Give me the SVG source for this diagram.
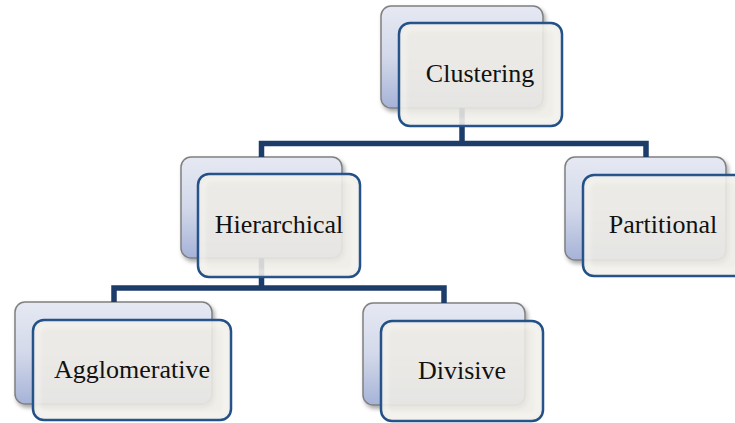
<svg xmlns="http://www.w3.org/2000/svg" width="735" height="423" viewBox="0 0 735 423">
  <defs>
    <linearGradient id="backFill" x1="0" y1="0" x2="0" y2="1">
      <stop offset="0" stop-color="#e6e9f3"/>
      <stop offset="0.5" stop-color="#d3d9ea"/>
      <stop offset="1" stop-color="#a6b3d8"/>
    </linearGradient>
    <filter id="shadow" x="-10%" y="-10%" width="125%" height="130%">
      <feDropShadow dx="2" dy="3" stdDeviation="2" flood-color="#000" flood-opacity="0.35"/>
    </filter>
    <filter id="soft" x="-10%" y="-10%" width="120%" height="120%">
      <feGaussianBlur stdDeviation="2"/>
    </filter>
  </defs>
  <style>
    .back { fill: url(#backFill); stroke: #808080; stroke-width: 1.5; filter: url(#shadow); }
    .front { fill: #eeece5; fill-opacity: 0.88; stroke: #1f4e86; stroke-width: 2.5; }
    .glow { fill: none; stroke: #ffffff; stroke-opacity: 0.5; stroke-width: 3; filter: url(#soft); }
    .link { fill: none; stroke: #1c3c6a; stroke-width: 5.5; stroke-linejoin: miter; }
    .label { font-family: "Liberation Serif", "Times New Roman", serif; font-size: 26px; fill: #111; text-anchor: middle; }
  </style>

  <rect width="735" height="423" fill="#ffffff"/>

  <!-- back plates of every node -->
  <g id="backs">
    <rect class="back" x="381" y="6" width="162" height="102" rx="10"/>
    <rect class="back" x="181" y="157" width="161" height="101" rx="10"/>
    <rect class="back" x="565" y="157" width="161" height="103" rx="10"/>
    <rect class="back" x="15" y="302" width="197" height="102" rx="10"/>
    <rect class="back" x="363" y="303" width="162" height="102" rx="10"/>
  </g>

  <!-- tree connectors -->
  <g id="connectors">
    <path class="link" d="M462 108 V143.5 H261.5 V157 M462 143.5 H646 V157"/>
    <path class="link" d="M261.5 258 V288 H114 V302 M261.5 288 H444 V303"/>
  </g>

  <g id="node-clustering">
    <rect class="front" x="399" y="23" width="163" height="103" rx="11"/>
    <rect class="glow" x="404" y="28" width="153" height="93" rx="8"/>
    <text class="label" x="480" y="82">Clustering</text>
  </g>

  <g id="node-hierarchical">
    <rect class="front" x="198" y="174" width="162" height="103" rx="11"/>
    <rect class="glow" x="203" y="179" width="152" height="93" rx="8"/>
    <text class="label" x="279" y="233">Hierarchical</text>
  </g>

  <g id="node-partitional">
    <rect class="front" x="583" y="175" width="162" height="101" rx="11"/>
    <rect class="glow" x="588" y="180" width="152" height="91" rx="8"/>
    <text class="label" x="663" y="233">Partitional</text>
  </g>

  <g id="node-agglomerative">
    <rect class="front" x="33" y="320" width="198" height="100" rx="11"/>
    <rect class="glow" x="38" y="325" width="188" height="90" rx="8"/>
    <text class="label" x="132" y="378">Agglomerative</text>
  </g>

  <g id="node-divisive">
    <rect class="front" x="381" y="321" width="162" height="100" rx="11"/>
    <rect class="glow" x="386" y="326" width="152" height="90" rx="8"/>
    <text class="label" x="462" y="379">Divisive</text>
  </g>
</svg>
